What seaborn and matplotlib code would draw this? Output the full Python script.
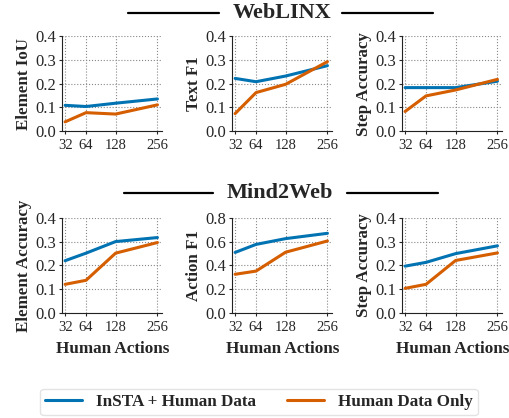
import matplotlib
matplotlib.use("Agg")
import matplotlib.pyplot as plt
from matplotlib.lines import Line2D
import numpy as np
import pandas as pd
import seaborn as sns

sns.set_style("ticks")
plt.rcParams['font.family'] = ['Liberation Serif', 'DejaVu Serif']

human_actions = [32, 64, 128, 256]
methods = ["InSTA + Human Data", "Human Data Only"]
colors = ["#0173b2", "#d55e00"]

# WebLINX
weblinx_element_iou = {"InSTA + Human Data": [0.108, 0.103, 0.117, 0.135],
                       "Human Data Only": [0.038, 0.077, 0.071, 0.110]}
weblinx_text_f1 = {"InSTA + Human Data": [0.222, 0.208, 0.232, 0.276],
                   "Human Data Only": [0.073, 0.162, 0.197, 0.293]}
weblinx_step_acc = {"InSTA + Human Data": [0.183, 0.183, 0.183, 0.210],
                    "Human Data Only": [0.082, 0.148, 0.173, 0.218]}
# Mind2Web
m2w_element_acc = {"InSTA + Human Data": [0.220, 0.252, 0.301, 0.318],
                   "Human Data Only": [0.120, 0.137, 0.252, 0.297]}
m2w_action_f1 = {"InSTA + Human Data": [0.510, 0.578, 0.627, 0.672],
                 "Human Data Only": [0.325, 0.352, 0.512, 0.607]}
m2w_step_acc = {"InSTA + Human Data": [0.197, 0.213, 0.250, 0.283],
                "Human Data Only": [0.103, 0.120, 0.221, 0.253]}

panels = [
    [("Element IoU", weblinx_element_iou, 0.4), ("Text F1", weblinx_text_f1, 0.4),
     ("Step Accuracy", weblinx_step_acc, 0.4)],
    [("Element Accuracy", m2w_element_acc, 0.4), ("Action F1", m2w_action_f1, 0.8),
     ("Step Accuracy", m2w_step_acc, 0.4)],
]


def to_frame(series):
    rows = []
    for m in methods:
        for x, y in zip(human_actions, series[m]):
            rows.append({"Human Actions": x, "value": y, "method": m})
    return pd.DataFrame(rows)


fig = plt.figure(figsize=(5.09, 4.18), dpi=100)
lefts = [0.122, 0.456, 0.790]
bottoms = [0.687, 0.252]
w, h = 0.197, 0.226

for r, row in enumerate(panels):
    for c, (label, series, ymax) in enumerate(row):
        ax = fig.add_axes([lefts[c], bottoms[r], w, h])
        sns.lineplot(data=to_frame(series), x="Human Actions", y="value", hue="method",
                     palette=colors, linewidth=2.2, ax=ax, legend=False)
        ax.set_xscale('function', functions=(np.sqrt, np.square))
        ax.set_xlim(28.3, 274)
        ax.set_ylim(0, ymax)
        ax.set_xticks(human_actions)
        ax.set_xticklabels([str(v) for v in human_actions])
        step = ymax / 4
        ax.set_yticks(np.arange(0, ymax + step / 2, step))
        ax.yaxis.set_major_formatter(matplotlib.ticker.FormatStrFormatter('%.1f'))
        ax.tick_params(axis='x', labelsize=10.5, length=2, pad=4)
        ax.tick_params(axis='y', labelsize=12, length=2, pad=2)
        ax.grid(True, linestyle=':', color='#888888', linewidth=0.8)
        sns.despine(ax=ax)
        for s in ["left", "bottom"]:
            ax.spines[s].set_color('#222222')
        ax.set_ylabel(label, fontsize=12.2, fontweight='bold', labelpad=3)
        if r == 1:
            ax.set_xlabel("Human Actions", fontsize=12.3, fontweight='bold', labelpad=5)
        else:
            ax.set_xlabel("")

# section titles with side rules
for title, cx, cy, l1, l2 in [("WebLINX", 282, 13, (128, 219), (342, 433)),
                              ("Mind2Web", 280, 193, (124, 213), (347, 438))]:
    fy = 1 - cy / 418
    fig.text(cx / 509, fy, title, ha='center', va='center', fontsize=16, fontweight='bold')
    for a, b in (l1, l2):
        fig.add_artist(Line2D([a / 509, b / 509], [fy, fy], color='black', linewidth=1.6))

handles = [Line2D([0], [0], color=col, linewidth=2.2) for col in colors]
fig.legend(handles, methods, loc='center', bbox_to_anchor=(259 / 509, 1 - 402 / 418),
           ncol=2, prop={'weight': 'bold', 'size': 12.3}, frameon=True,
           edgecolor='#dddddd', columnspacing=1.85, handlelength=2.15,
           borderpad=0.3, fancybox=True)

fig.savefig("out.png", dpi=100)
